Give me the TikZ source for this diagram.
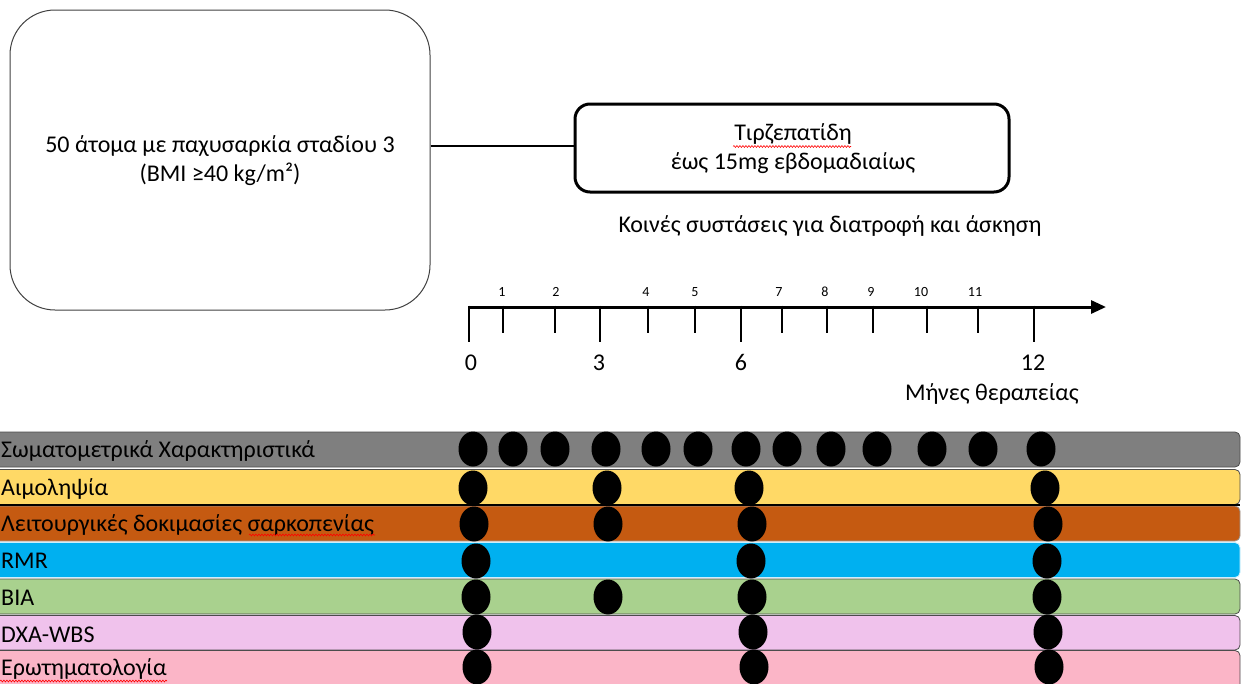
\documentclass[tikz,border=0pt]{standalone}
\usepackage{fontspec}
\setmainfont{Carlito}
\usetikzlibrary{arrows.meta,decorations.pathmorphing,shapes.geometric}
\definecolor{cGray}{HTML}{7F7F7F}
\definecolor{cYel}{HTML}{FFD966}
\definecolor{cBrown}{HTML}{C55A11}
\definecolor{cBlue}{HTML}{00B0F0}
\definecolor{cGreen}{HTML}{A9D18E}
\definecolor{cLilac}{HTML}{F0C2EC}
\definecolor{cRose}{HTML}{FBB5C7}
\tikzset{
  popbox/.style={draw=black!75, line width=1pt, rounded corners=45pt, minimum width=420pt, minimum height=300pt},
  trtbox/.style={draw=black, line width=3pt, rounded corners=15pt, minimum width=434pt, minimum height=88pt},
  boxtext/.style={align=center, font=\fontsize{24}{29}\selectfont, inner sep=0pt},
  bar/.style={draw=black!70, line width=0.8pt, rounded corners=5pt},
  rowlabel/.style={anchor=west, inner sep=0pt, font=\fontsize{24}{26}\selectfont},
  axis/.style={line width=3pt, -{Triangle[length=15pt,width=13pt]}},
  tick/.style={line width=2.5pt},
  small/.style={font=\fontsize{14}{15}\selectfont, inner sep=0pt, anchor=base},
  major/.style={font=\fontsize{24}{26}\selectfont, inner sep=0pt, anchor=base},
  wavy/.style={red, line width=0.6pt, decorate, decoration={snake, amplitude=0.9pt, segment length=3pt}},
  dot/.style={fill=black}
}
\begin{document}
\begin{tikzpicture}[x=1pt,y=-1pt]
\useasboundingbox (0,0) rectangle (1242,683);
\clip (0,0) rectangle (1242,683);
% top boxes
\node[popbox] (pop) at (220,160) {};
\node[boxtext] (popt) at (220,161) {50 άτομα με παχυσαρκία σταδίου 3\\(BMI ≥40 kg/m²)};
\node[trtbox] (trt) at (792,148) {};
\node[boxtext] (trtt) at (793,149) {Τιρζεπατίδη\\έως 15mg εβδομαδιαίως};
\draw[line width=1.2pt] (pop.east |- 0,146) -- (trt.west |- 0,146);
\draw[wavy] (733,146.5) -- (851,146.5);
\node[font=\fontsize{24}{26}\selectfont] (rec) at (830,226) {Κοινές συστάσεις για διατροφή και άσκηση};
% timeline
\coordinate (ax0) at (469,307);
\coordinate (ax1) at (1106,307);
\draw[axis] (ax0) -- (ax1);
\foreach \x in {469,600,741,1034} \draw[tick] (\x,305.5) -- (\x,342);
\foreach \x in {503,555,648,695,782,827,873,927,978} \draw[tick] (\x,305.5) -- (\x,333);
\foreach \x/\l in {502/1,556/2,646/4,695/5,779/7,825/8,871/9,921/10,975/11}
  \node[small] (t\l) at (\x,296) {\l};
\node[major] (m0) at (471,370) {0};
\node[major] (m3) at (599,370) {3};
\node[major] (m6) at (741,370) {6};
\node[major] (m12) at (1033,370) {12};
\node[font=\fontsize{24}{26}\selectfont] (months) at (992,394) {Μήνες θεραπείας};
% bars
\draw[bar, fill=cGray]  (-10,432) rectangle (1240,467);
\draw[bar, fill=cYel]   (-10,469.5) rectangle (1240,504.5);
\draw[bar, fill=cBrown, draw=black!40] (-10,506) rectangle (1240,541);
\draw[bar, fill=cBlue, draw=white!80!cBlue]  (-10,542.5) rectangle (1240,577.5);
\draw[bar, fill=cGreen] (-10,579) rectangle (1240,614);
\draw[bar, fill=cLilac] (-10,615.5) rectangle (1240,650);
\draw[bar, fill=cRose]  (-10,650.5) rectangle (1240,700);
\draw[black, line width=1.5pt] (-10,505) -- (1240,505);
\node[rowlabel] (r1) at (1,451) {Σωματομετρικά Χαρακτηριστικά};
\node[rowlabel] (r2) at (1,489) {Αιμοληψία};
\node[rowlabel] (r3) at (1,525) {Λειτουργικές δοκιμασίες σαρκοπενίας};
\node[rowlabel] (r4) at (1,561) {RMR};
\node[rowlabel] (r5) at (1,598) {BIA};
\node[rowlabel] (r6) at (1,635) {DXA-WBS};
\node[rowlabel] (r7) at (1,669) {Ερωτηματολογία};
\draw[wavy] (249,535) -- (375,535);
\draw[wavy] (0,681) -- (167,681);
% dots
\foreach \x in {473,513,555,606,656,698,746,787,831,877,932,983,1041}
  \fill[dot] (\x,449) ellipse (14.5 and 17.5);
\foreach \x in {473,607,749,1045} \fill[dot] (\x,488) ellipse (14.5 and 17.5);
\foreach \x in {474,608,752,1048} \fill[dot] (\x,524) ellipse (14.5 and 17.5);
\foreach \x in {476,751,1047} \fill[dot] (\x,561) ellipse (14.5 and 17.5);
\foreach \x in {476,608,752,1047} \fill[dot] (\x,597) ellipse (14.5 and 17.5);
\foreach \x in {477,753,1048} \fill[dot] (\x,632) ellipse (14.5 and 17.5);
\foreach \x in {477,754,1049} \fill[dot] (\x,667) ellipse (14.5 and 17.5);
\end{tikzpicture}
\end{document}
